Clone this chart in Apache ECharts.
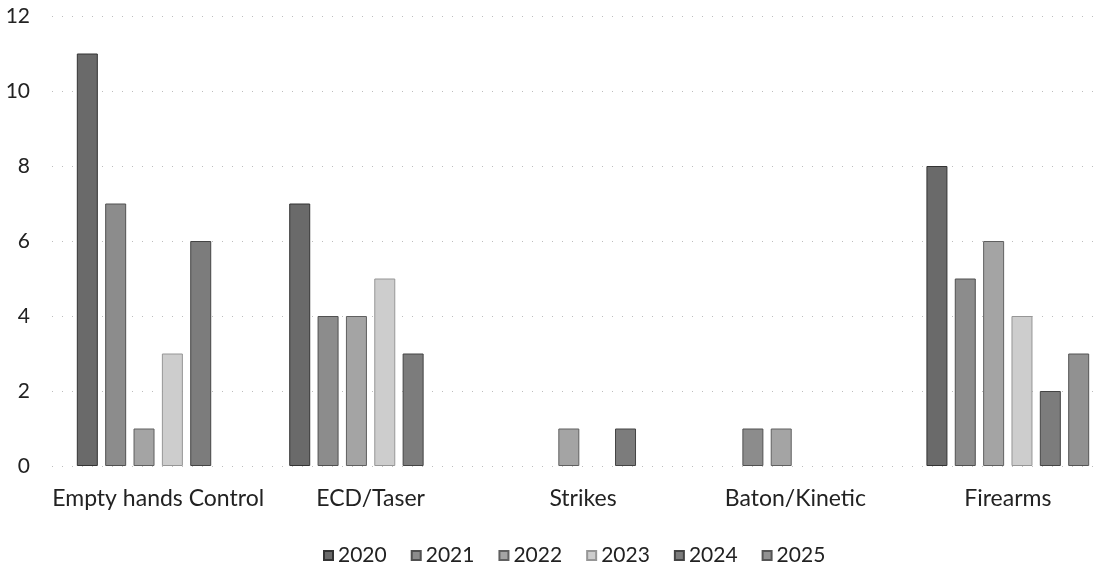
<!DOCTYPE html>
<html>
<head>
<meta charset="utf-8">
<script src="https://cdn.jsdelivr.net/npm/echarts@6/dist/echarts.min.js"></script>
<style>
html,body{margin:0;padding:0;background:#fff;overflow:hidden;}
#chart{width:1102px;height:567px;}
</style>
</head>
<body>
<div id="chart"></div>
<script>
const categories = ["Empty hands Control", "ECD/Taser", "Strikes", "Baton/Kinetic", "Firearms"];
const years = ["2020", "2021", "2022", "2023", "2024", "2025"];
const values2020 = [11, 7, null, null, 8];
const values2021 = [7, 4, null, 1, 5];
const values2022 = [1, 4, 1, 1, 6];
const values2023 = [3, 5, null, null, 4];
const values2024 = [6, 3, 1, null, 2];
const values2025 = [null, null, null, null, 3];
const yTicks = [0, 2, 4, 6, 8, 10, 12];

const allValues = [values2020, values2021, values2022, values2023, values2024, values2025];
const fills = ["#6a6a6a", "#8c8c8c", "#a4a4a4", "#cdcdcd", "#7c7c7c", "#919191"];
const borders = ["#333333", "#505050", "#606060", "#969696", "#444444", "#555555"];
const FONT = "Lato";

const chart = echarts.init(document.getElementById('chart'), null, {renderer: 'canvas'});
chart.setOption({
  animation: false,
  backgroundColor: '#ffffff',
  grid: {left: 52, right: -12, top: 16, bottom: 101, containLabel: false, outerBoundsMode: 'none'},
  legend: {
    data: years,
    left: 318,
    top: 540,
    icon: 'rect',
    itemWidth: 9,
    itemHeight: 9,
    itemGap: 24,
    textStyle: {fontFamily: FONT, fontSize: 21, color: '#222'}
  },
  xAxis: {
    type: 'category',
    data: categories,
    axisLine: {show: false},
    axisTick: {show: false},
    axisLabel: {fontFamily: FONT, fontSize: 23, color: '#222', margin: 21, interval: 0}
  },
  yAxis: {
    type: 'value',
    min: yTicks[0],
    max: yTicks[yTicks.length - 1],
    interval: 2,
    axisLine: {show: false},
    axisTick: {show: false},
    axisLabel: {fontFamily: FONT, fontSize: 21, color: '#222', margin: 22},
    splitLine: {lineStyle: {color: '#bdbdbd', width: 1, type: [1, 9]}}
  },
  series: years.map((y, i) => ({
    name: y,
    type: 'bar',
    data: allValues[i],
    barWidth: 21,
    barGap: '35%',
    itemStyle: {color: fills[i], borderColor: borders[i], borderWidth: 1}
  }))
});
</script>
</body>
</html>
